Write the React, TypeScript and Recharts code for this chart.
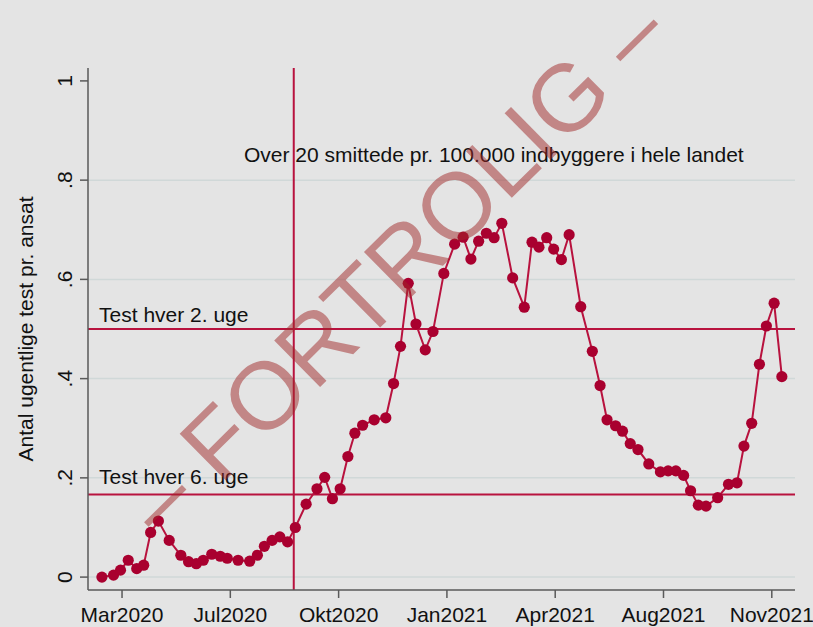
import { Line, LineChart, ReferenceDot, ReferenceLine, XAxis, YAxis } from 'recharts'

// weeks relative to the Mar2020 tick
const weeks = [
  -2.6, -1.1, -0.2, 0.8, 1.9, 2.8, 3.7, 4.7, 6.1, 7.6,
  8.6, 9.6, 10.5, 11.6, 12.7, 13.6, 15.0, 16.5, 17.5, 18.4,
  19.4, 20.4, 21.4, 22.4, 23.8, 25.2, 26.2, 27.2, 28.2, 29.2,
  30.1, 31.1, 32.6, 34.1, 35.1, 36.0, 37.0, 38.0, 39.2, 40.2,
  41.6, 43.0, 44.1, 45.1, 46.1, 47.1, 48.1, 49.1, 50.5, 52.0,
  53.0, 53.9, 54.9, 55.8, 56.8, 57.8, 59.3, 60.8, 61.8, 62.7,
  63.8, 64.7, 65.7, 66.7, 68.1, 69.6, 70.6, 71.6, 72.6, 73.5,
  74.5, 75.5, 77.0, 78.4, 79.5, 80.4, 81.4, 82.4, 83.3, 84.3, 85.3,
]

const testsPerEmployee = [
  0.0, 0.004, 0.014, 0.034, 0.017, 0.024, 0.09, 0.113, 0.074, 0.044,
  0.031, 0.027, 0.034, 0.046, 0.042, 0.038, 0.034, 0.032, 0.044, 0.062,
  0.074, 0.081, 0.071, 0.1, 0.147, 0.178, 0.201, 0.158, 0.178, 0.243,
  0.29, 0.306, 0.317, 0.321, 0.39, 0.465, 0.592, 0.51, 0.458, 0.495,
  0.612, 0.671, 0.685, 0.641, 0.677, 0.693, 0.684, 0.713, 0.603, 0.544,
  0.675, 0.665, 0.684, 0.661, 0.64, 0.69, 0.545, 0.455, 0.386, 0.317,
  0.305, 0.294, 0.269, 0.257, 0.228, 0.212, 0.214, 0.214, 0.205, 0.174,
  0.145, 0.143, 0.16, 0.187, 0.19, 0.264, 0.31, 0.429, 0.506, 0.552, 0.404,
]

const xTicks = [0, 14, 28, 42, 56, 70, 84]
const xTickLabels = ['Mar2020', 'Jul2020', 'Okt2020', 'Jan2021', 'Apr2021', 'Aug2021', 'Nov2021']
const yTicks = [0, 0.2, 0.4, 0.6, 0.8, 1]
const yTickLabels = ['0', '.2', '.4', '.6', '.8', '1']
const gridValues = [0, 0.2, 0.4, 0.6, 0.8]

const everySecondWeek = 0.5
const everySixthWeek = 0.1667
const over20Week = 22.2

const data = weeks.map((week, i) => ({ week, tests: testsPerEmployee[i] }))

const RED = '#a9002f'
const LINE_RED = '#b8123e'
const FONT = '"Liberation Sans", Arial, sans-serif'

function XTick({ x, y, payload }: any) {
  const label = xTickLabels[xTicks.indexOf(payload.value)]
  return (
    <text x={x} y={y + 24} textAnchor="middle" fontSize={21} fontFamily={FONT} fill="#111">
      {label}
    </text>
  )
}

function YTick({ x, y, payload }: any) {
  const label = yTickLabels[yTicks.indexOf(payload.value)]
  const tx = x - 8
  return (
    <text
      x={tx}
      y={y}
      transform={`rotate(-90 ${tx} ${y})`}
      textAnchor="middle"
      fontSize={21}
      fontFamily={FONT}
      fill="#111"
    >
      {label}
    </text>
  )
}

function YTitle({ viewBox }: any) {
  const cx = (viewBox?.x ?? 0) + 33
  const cy = (viewBox?.y ?? 68) + (viewBox?.height ?? 522) / 2
  return (
    <text
      x={cx}
      y={cy}
      transform={`rotate(-90 ${cx} ${cy})`}
      textAnchor="middle"
      fontSize={21}
      fontFamily={FONT}
      fill="#111"
    >
      Antal ugentlige test pr. ansat
    </text>
  )
}

function Note({ viewBox, text }: any) {
  return (
    <text
      x={viewBox.x}
      y={viewBox.y}
      dominantBaseline="central"
      textAnchor="start"
      fontSize={21}
      fontFamily={FONT}
      fill="#111"
    >
      {text}
    </text>
  )
}

export default function App() {
  return (
    <div style={{ position: 'absolute', left: 0, top: 0, width: 813, height: 627, background: '#e4e4e4' }}>
      <LineChart width={813} height={627} data={data} margin={{ top: 68, right: 18, bottom: 0, left: 0 }}>
        <XAxis
          type="number"
          dataKey="week"
          domain={[-4.4, 87]}
          ticks={xTicks}
          allowDataOverflow
          height={37}
          tickSize={8}
          tickMargin={0}
          tick={<XTick />}
          stroke="#5a5a5a"
          strokeWidth={1.5}
        />
        <YAxis
          type="number"
          domain={[-0.026, 1.026]}
          ticks={yTicks}
          allowDataOverflow
          width={88}
          tickSize={8}
          tickMargin={0}
          tick={<YTick />}
          stroke="#5a5a5a"
          strokeWidth={1.5}
          label={<YTitle />}
        />
        {gridValues.map((v) => (
          <ReferenceLine key={v} y={v} stroke="#d0d8d8" strokeWidth={1.5} />
        ))}
        <ReferenceLine y={everySecondWeek} stroke={LINE_RED} strokeWidth={2} />
        <ReferenceLine y={everySixthWeek} stroke={LINE_RED} strokeWidth={2} />
        <ReferenceLine x={over20Week} stroke={LINE_RED} strokeWidth={2} />
        <ReferenceDot x={15.9} y={0.85} r={1} fill="none" stroke="none"
          label={<Note text="Over 20 smittede pr. 100.000 indbyggere i hele landet" />} />
        <ReferenceDot x={-2.84} y={0.528} r={1} fill="none" stroke="none"
          label={<Note text="Test hver 2. uge" />} />
        <ReferenceDot x={-2.84} y={0.2} r={1} fill="none" stroke="none"
          label={<Note text="Test hver 6. uge" />} />
        <Line
          type="linear"
          dataKey="tests"
          stroke={LINE_RED}
          strokeWidth={2}
          dot={{ r: 5.6, fill: RED, stroke: 'none' }}
          isAnimationActive={false}
        />
      </LineChart>
      <svg width={813} height={627} style={{ position: 'absolute', left: 0, top: 0, pointerEvents: 'none' }}>
        <text
          x={0}
          y={30}
          transform="translate(397 269) rotate(-44.6)"
          textAnchor="middle"
          fontSize={95}
          fontFamily={FONT}
          fill="rgb(160,40,40)"
          fillOpacity={0.5}
          textLength={716}
          lengthAdjust="spacingAndGlyphs"
        >
          – FORTROLIG –
        </text>
      </svg>
    </div>
  )
}
